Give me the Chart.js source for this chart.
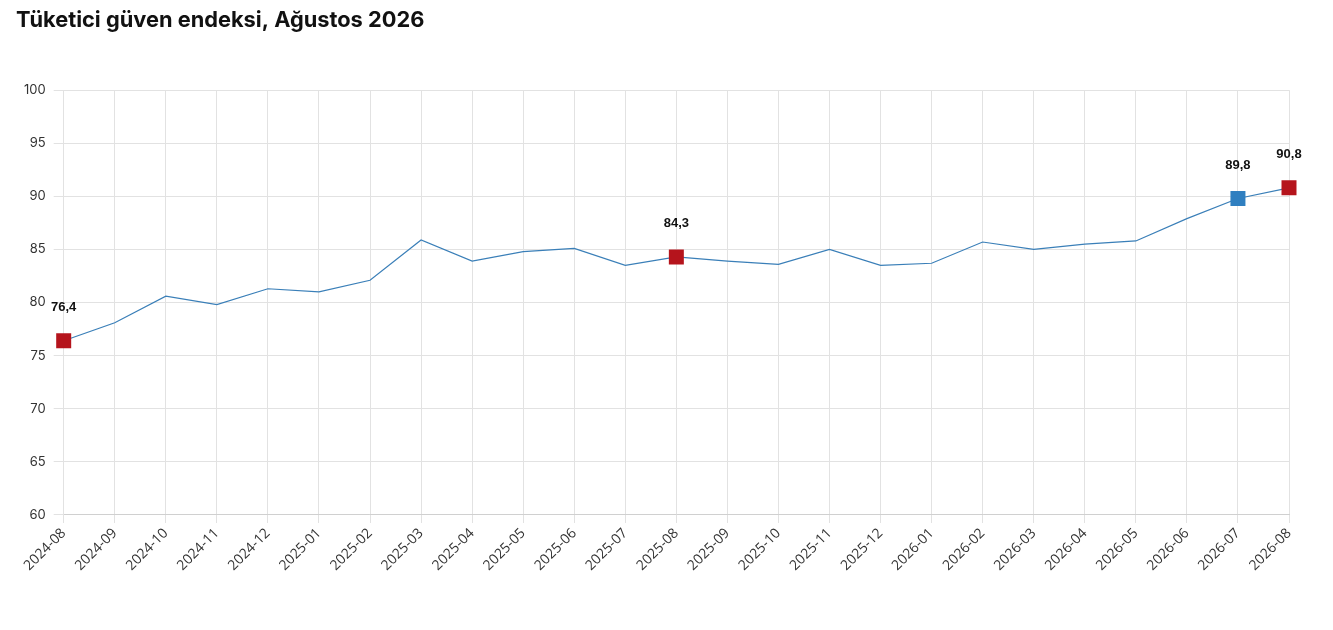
<!DOCTYPE html>
<html>
<head>
<meta charset="utf-8">
<script src="https://cdn.jsdelivr.net/npm/chart.js@4/dist/chart.umd.min.js"></script>
<style>
  body { margin: 0; background: #fff; }
  #wrap { position: relative; width: 1333px; height: 630px; }
</style>
</head>
<body>
<div id="wrap"><canvas id="chart"></canvas></div>
<script>
const months = [
  "2024-08","2024-09","2024-10","2024-11","2024-12","2025-01","2025-02","2025-03",
  "2025-04","2025-05","2025-06","2025-07","2025-08","2025-09","2025-10","2025-11",
  "2025-12","2026-01","2026-02","2026-03","2026-04","2026-05","2026-06","2026-07","2026-08"
];
const values = [
  76.4, 78.1, 80.6, 79.8, 81.3, 81.0, 82.1, 85.9,
  83.9, 84.8, 85.1, 83.5, 84.3, 83.9, 83.6, 85.0,
  83.5, 83.7, 85.7, 85.0, 85.5, 85.8, 87.9, 89.8, 90.8
];
// highlighted points: index -> colour
const highlighted = { 0: "#b5141c", 12: "#b5141c", 23: "#2f7fc0", 24: "#b5141c" };

const pointColors = values.map((v, i) => highlighted[i] || "#3a7fb8");
const pointRadius = values.map((v, i) => highlighted[i] ? 10.6 : 0);

const labelPlugin = {
  id: "valueLabels",
  afterDatasetsDraw(chart) {
    const ctx = chart.ctx;
    const meta = chart.getDatasetMeta(0);
    ctx.save();
    ctx.font = "bold 13px 'Liberation Sans', Arial, sans-serif";
    ctx.fillStyle = "#111";
    ctx.textAlign = "center";
    ctx.textBaseline = "middle";
    Object.keys(highlighted).forEach(k => {
      const p = meta.data[k];
      ctx.fillText(values[k].toFixed(1).replace(".", ","), p.x, p.y - 33);
    });
    ctx.restore();
  }
};

new Chart(document.getElementById("chart"), {
  type: "line",
  data: {
    labels: months,
    datasets: [{
      data: values,
      borderColor: "#3a7fb8",
      borderWidth: 1.2,
      tension: 0,
      pointStyle: "rect",
      pointRadius: pointRadius,
      pointHoverRadius: pointRadius,
      pointBackgroundColor: pointColors,
      pointBorderColor: pointColors,
      pointBorderWidth: 0
    }]
  },
  options: {
    responsive: true,
    maintainAspectRatio: false,
    animation: false,
    layout: { padding: { left: 16, right: 44, top: 0, bottom: 54 } },
    plugins: {
      legend: { display: false },
      tooltip: { enabled: false },
      title: {
        display: true,
        text: "Tüketici güven endeksi, Ağustos 2026",
        align: "start",
        color: "#111",
        font: { family: "Inter", size: 21.8, weight: "bold" },
        padding: { top: 7, bottom: 57 }
      }
    },
    scales: {
      x: {
        offset: false,
        grid: { color: "#e2e2e2", tickLength: 8 },
        border: { color: "#d0d0d0" },
        ticks: {
          color: "#333",
          font: { family: "Open Sans", size: 14 },
          maxRotation: 45,
          minRotation: 45,
          autoSkip: false,
          padding: 2
        }
      },
      y: {
        min: 60,
        max: 100,
        grid: { color: "#e2e2e2", tickLength: 10 },
        border: { color: "#e2e2e2" },
        ticks: {
          stepSize: 5,
          color: "#333",
          font: { family: "Inter", size: 13 },
          padding: 8
        }
      }
    }
  },
  plugins: [labelPlugin]
});
</script>
</body>
</html>
